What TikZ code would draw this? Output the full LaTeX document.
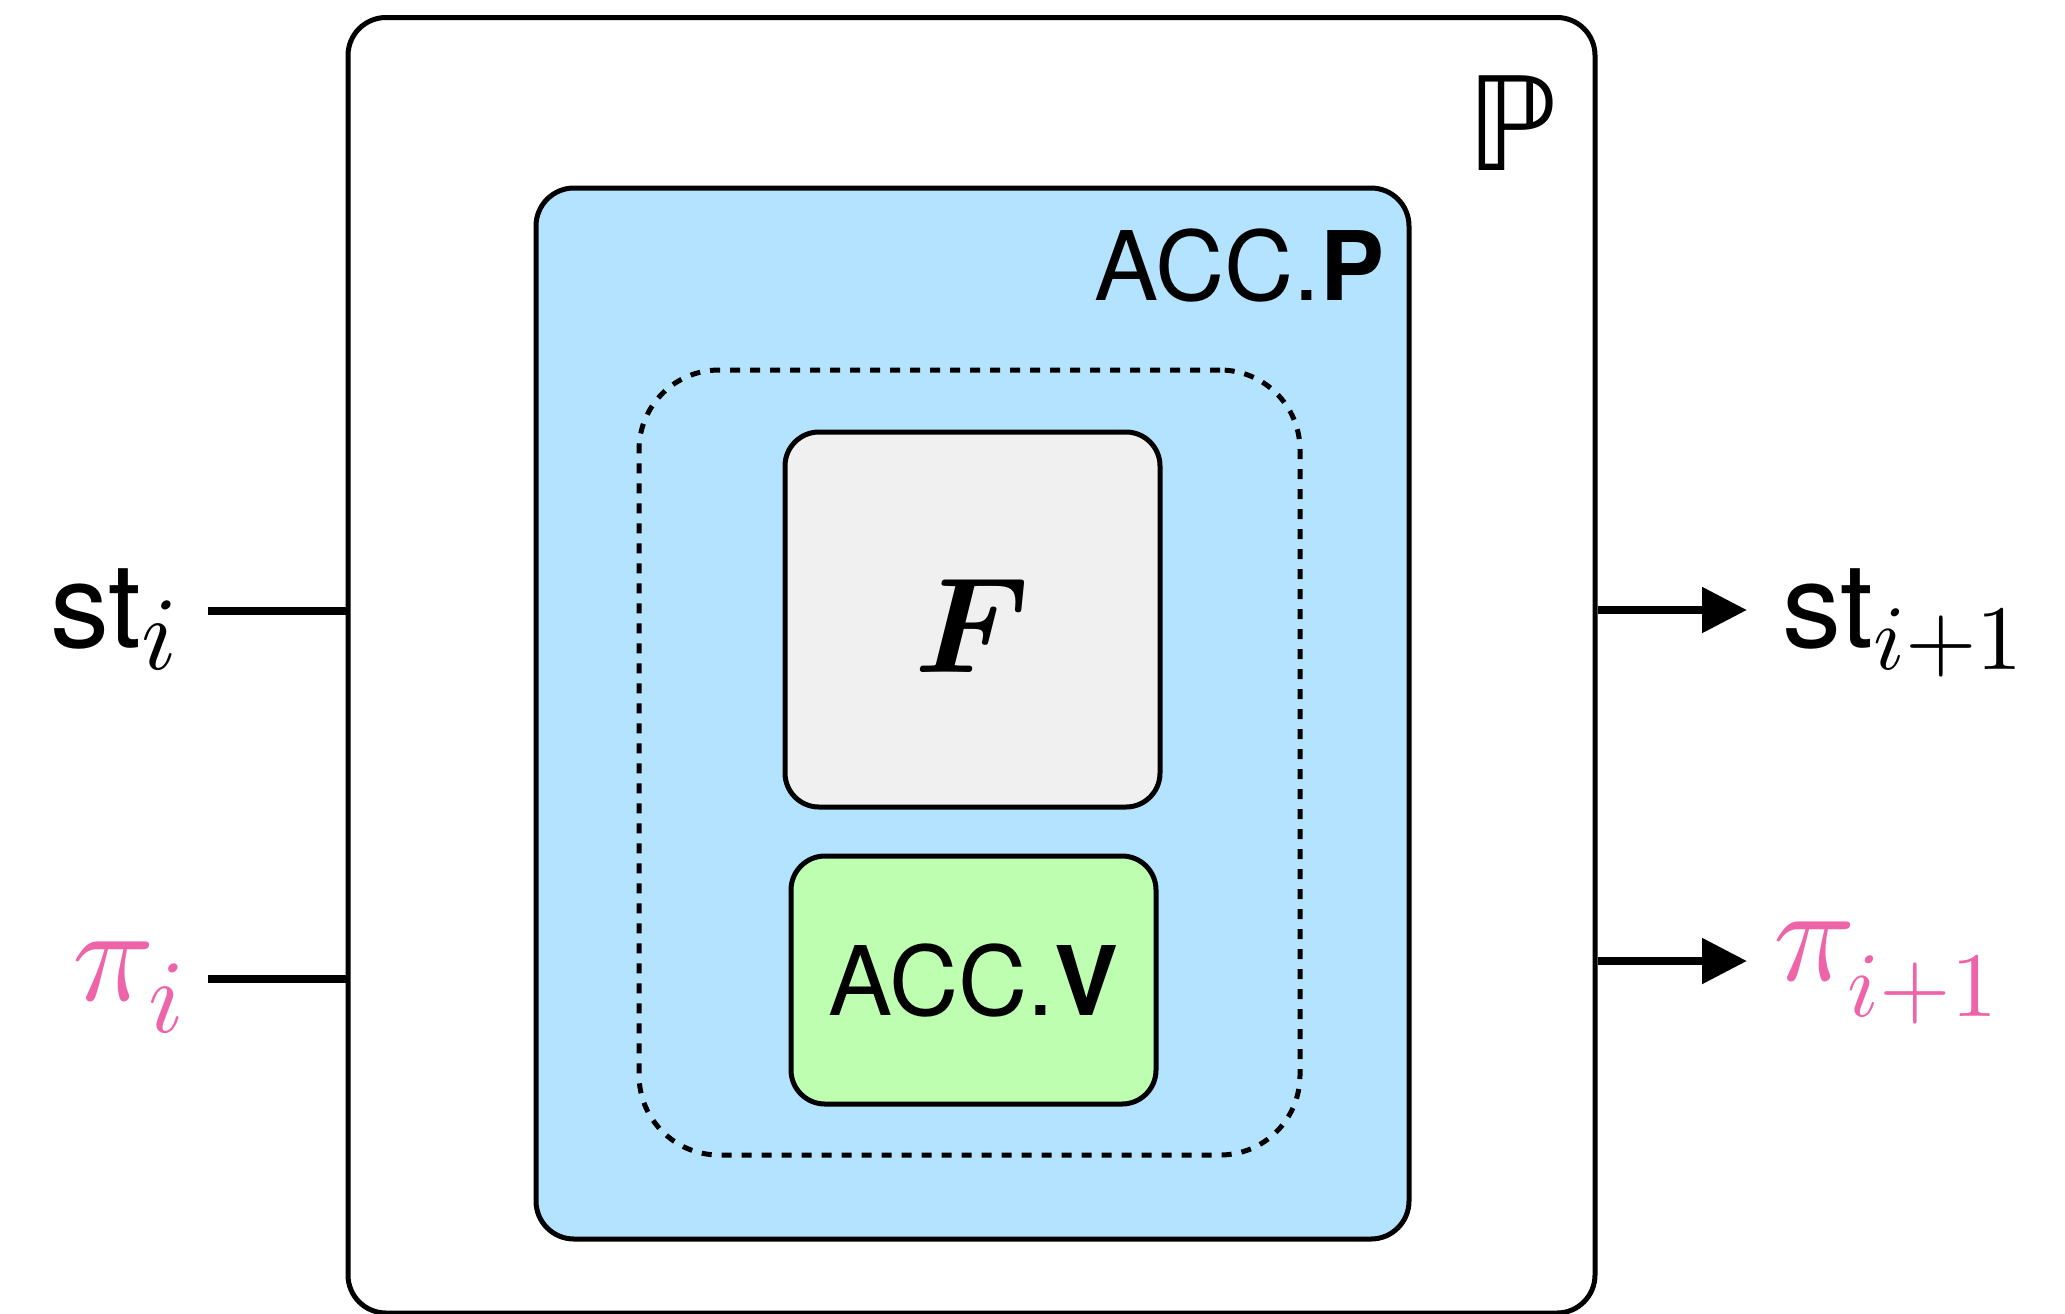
\documentclass[tikz,border=0pt]{standalone}
\usepackage{amsmath,amssymb}
\usepackage{graphicx}
\usepackage{fontspec}
\newfontfamily\helv{TeX Gyre Heros}
\newfontfamily\dejavu{DejaVu Sans}
\usetikzlibrary{arrows.meta,fit}

\definecolor{accpblue}{HTML}{B3E3FE}
\definecolor{accvgreen}{HTML}{BEFEB1}
\definecolor{fgray}{HTML}{F0F0F0}
\definecolor{pipink}{HTML}{EE64A9}

\begin{document}
\begin{tikzpicture}[x=0.5pt,y=-0.5pt,
  box/.style={draw, line width=2.5pt, inner sep=0pt},
  wire/.style={line width=4.25pt},
  outarrow/.style={line width=4.25pt, -{Triangle[length=22.5pt,width=22pt]}},
  lbl/.style={inner sep=0pt, anchor=base west},
  sanslabel/.style={inner sep=0pt, font=\helv\fontsize{48}{48}\selectfont},
]
\useasboundingbox (0,0) rectangle (2065,1313);

% nested blocks
\node[box, fit={(348,17.5) (1595,1313)}, rounded corners=19pt] (outer) {};
\node[box, fill=accpblue, fit={(536,188) (1409,1239)}, rounded corners=19pt] (accp) {};
\node[box, dash pattern=on 5pt off 5pt, fit={(639,370) (1300,1155)}, rounded corners=40pt] (group) {};
\node[box, fill=fgray, fit={(785,432) (1160,807)}, rounded corners=17pt] (fbox) {};
\node[box, fill=accvgreen, fit={(791,856) (1156,1104)}, rounded corners=17pt] (accv) {};

% block titles
\node[inner sep=0pt, anchor=base west] (ptitle) at (1466,170) {\dejavu\fontsize{65}{65}\selectfont ℙ};
\node[sanslabel, anchor=base east] (acctitle) at (1385,300) {ACC.\textbf{P}};
\node[inner sep=0pt] (ftext) at ([yshift=-3pt]fbox.center) {\scalebox{6.8}{$\boldsymbol{F}$}};
\node[sanslabel] (accvtext) at (accv.center) {ACC.\textbf{V}};

% inputs and outputs
\node[lbl] (sti) at (50,647) {{\helv\fontsize{59}{59}\selectfont st}\raisebox{-11pt}{\scalebox{5.2}{$i$}}};
\node[lbl, text=pipink] (pii) at (72,1000) {\scalebox{6.8}{$\pi$}\kern-3pt\raisebox{-16pt}{\scalebox{5.2}{$i$}}};
\node[lbl] (stnext) at (1782,647) {{\helv\fontsize{59}{59}\selectfont st}\raisebox{-11pt}{\scalebox{4.6}{$i{+}1$}}};
\node[lbl, text=pipink] (pinext) at (1773,980) {\scalebox{6.8}{$\pi$}\kern-4pt\raisebox{-18pt}{\scalebox{4.6}{$i{+}1$}}};

\coordinate (stin) at (208,611);
\coordinate (piin) at (208,979);
\coordinate (stout) at (1747,610);
\coordinate (piout) at (1747,961);

\draw[wire] (stin) -- (stin -| outer.west);
\draw[wire] (piin) -- (piin -| outer.west);
\draw[outarrow] (stout -| outer.east) -- (stout);
\draw[outarrow] (piout -| outer.east) -- (piout);
\end{tikzpicture}
\end{document}
